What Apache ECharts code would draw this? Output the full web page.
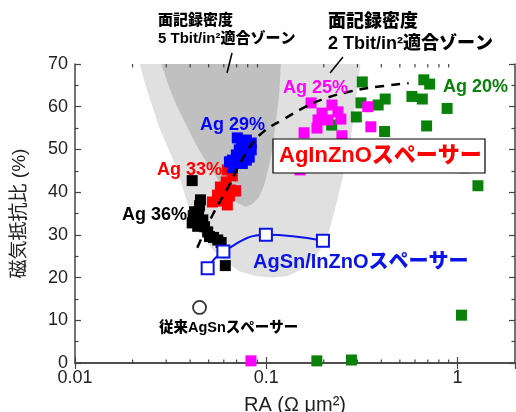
<!DOCTYPE html>
<html><head><meta charset="utf-8">
<script src="https://cdn.jsdelivr.net/npm/echarts@6/dist/echarts.min.js"></script>
<style>html,body{margin:0;padding:0;background:#fff}#c{width:516px;height:412px}</style>
</head><body><div id="c"></div>
<script>
// ---- data ----
const xMajorTicks = [0.01, 0.1, 1];
const xMinorTicks = [0.02,0.03,0.04,0.05,0.06,0.07,0.08,0.09,0.2,0.3,0.4,0.5,0.6,0.7,0.8,0.9];
const yTicks = [0,10,20,30,40,50,60,70];

const ag36 = [[0.041,42.7],[0.0453,38.2],[0.0448,36.8],[0.0443,35.4],[0.0422,35.4],[0.0415,34.5],[0.0438,34.3],[0.0430,33.1],[0.0466,33.5],[0.041,32.8],[0.0438,32.0],[0.0476,31.9],[0.0494,30.7],[0.0505,29.6],[0.053,29.4],[0.0558,28.8],[0.0581,28.2],[0.0611,22.8]];
const ag33 = [[0.0626,45.2],[0.0665,43.8],[0.0618,42.4],[0.0576,41.2],[0.0612,41.0],[0.0649,40.5],[0.069,40.3],[0.0556,39.3],[0.0597,38.9],[0.0642,39.1],[0.0523,37.7],[0.0565,37.9],[0.0626,37.0]];
const ag29 = [[0.0706,52.7],[0.0787,52.2],[0.0835,51.5],[0.0741,51.1],[0.0815,51.1],[0.0723,49.9],[0.0787,49.4],[0.0835,49.9],[0.0698,48.7],[0.0665,47.5],[0.0723,47.1],[0.0787,47.5],[0.0815,48.2],[0.0642,47.1],[0.075,46.7],[0.0665,45.7]];
const ag25 = [[0.1716,60.9],[0.2206,60.4],[0.1958,58.5],[0.2371,58.8],[0.1866,56.9],[0.2458,57.1],[0.2104,56.9],[0.1843,55.0],[0.1577,53.9],[0.2487,53.2],[0.3397,60.0],[0.3524,55.3],[0.1503,45.2],[0.0692,40.3],[0.0832,0.5]];
const ag20 = [[0.318,65.8],[0.667,66.3],[0.716,65.3],[0.313,60.9],[0.385,60.4],[0.419,61.8],[0.578,62.4],[0.655,61.8],[0.883,59.6],[0.296,57.6],[0.22,55.7],[0.416,54.2],[0.69,55.5],[1.088,45.7],[1.28,41.5],[1.05,11.2],[0.184,0.5],[0.279,0.7]];
const agSnInZnO = [[0.0494,22.2],[0.0597,26.1],[0.0996,30.0],[0.198,28.6]];
const agSnConventional = [[0.0448,13.0]];
const trendCurve = [[0.0436,27.0],[0.0525,34.7],[0.0642,41.7],[0.0723,46.4],[0.0848,51.5],[0.0996,54.6],[0.1216,56.9],[0.161,60.0],[0.2046,62.0],[0.2705,63.5],[0.358,64.5],[0.556,65.5]];
const zone5T = [[0.0262,75],[0.0283,70],[0.0312,64.3],[0.0339,60.4],[0.0382,55.7],[0.043,51.1],[0.0495,46.4],[0.0569,42.5],[0.0642,39.3],[0.0709,37.4],[0.0784,36.6],[0.0848,37.2],[0.0919,38.9],[0.0976,41.7],[0.1037,46.4],[0.1079,50.3],[0.1123,56.5],[0.1169,62.8],[0.1193,70],[0.121,75]];
const zone2T = [[0.0205,75],[0.0218,70],[0.0236,64.3],[0.0256,59.6],[0.0277,54.9],[0.0312,49.5],[0.0345,44.8],[0.0397,35.8],[0.0476,28.8],[0.0569,24.8],[0.0723,21.5],[0.0866,20.4],[0.1037,20.0],[0.1285,20.3],[0.158,22.2],[0.1888,26.0],[0.2128,30.7],[0.232,37.0],[0.2549,44.7],[0.2772,52.7],[0.2942,61.6],[0.3111,70],[0.32,75]];

// ---- chart ----
const chart = echarts.init(document.getElementById('c'), null, {renderer:'canvas'});
const FONT = '"Liberation Sans", Arial, "Noto Sans CJK JP", sans-serif';
const AX = '#444';

function zoneSeries(points, color, z){
  return {type:'custom', coordinateSystem:'cartesian2d', clip:true, silent:true, z:z,
    data:[[0.05,30]],
    renderItem:function(params, api){
      return {type:'polygon', shape:{points: points.map(p=>api.coord(p))}, style:{fill:color}};
    }};
}
function scatter(data, color, size){
  return {type:'scatter', data:data, symbol:'rect', symbolSize:size, itemStyle:{color:color, opacity:1}, z:5, silent:true};
}

const option = {
  animation:false,
  backgroundColor:'#fff',
  grid:{left:75, right:1, top:64, bottom:49, containLabel:false, outerBoundsMode:'none'},
  xAxis:[
    {type:'log', logBase:10, min:0.01, max:2, position:'bottom',
     name:'RA (Ω μm²)', nameLocation:'middle', nameGap:32,
     nameTextStyle:{fontFamily:FONT, fontSize:20, color:'#222'},
     axisLine:{lineStyle:{color:AX, width:1.5}},
     axisTick:{inside:true, length:6, lineStyle:{color:AX, width:1.2}},
     axisLabel:{fontFamily:FONT, fontSize:18, color:'#222', margin:6, showMaxLabel:false,
       formatter:function(v){ return xMajorTicks.some(t=>Math.abs(t-v)/t<1e-6) ? String(v) : ''; }},
     splitLine:{show:false}, minorTick:{show:false}},
    {type:'log', logBase:10, min:0.01, max:2, position:'top',
     axisLine:{lineStyle:{color:AX, width:1.5}},
     axisTick:{inside:true, length:6, lineStyle:{color:AX, width:1.2}},
     axisLabel:{show:false}, splitLine:{show:false}}
  ],
  yAxis:[
    {type:'value', min:0, max:70, interval:10, position:'left',
     name:'磁気抵抗比 (%)', nameLocation:'middle', nameGap:46, nameRotate:90,
     nameTextStyle:{fontFamily:FONT, fontSize:19, color:'#222'},
     axisLine:{show:true, lineStyle:{color:AX, width:1.5}},
     axisTick:{show:true, inside:true, length:6, lineStyle:{color:AX, width:1.2}},
     minorTick:{show:true, splitNumber:2, length:3.5, lineStyle:{color:AX, width:1.2}},
     axisLabel:{fontFamily:FONT, fontSize:18, color:'#222', margin:7},
     splitLine:{show:false}},
    {type:'value', min:0, max:70, interval:10, position:'right',
     axisLine:{show:true, lineStyle:{color:AX, width:1.5}},
     axisTick:{show:true, inside:true, length:6, lineStyle:{color:AX, width:1.2}},
     minorTick:{show:true, splitNumber:2, length:3.5, lineStyle:{color:AX, width:1.2}},
     axisLabel:{show:false}, splitLine:{show:false}}
  ],
  series:[
    zoneSeries(zone2T, '#e0e0e0', 1),
    zoneSeries(zone5T, '#c0c0c0', 2),
    {type:'custom', coordinateSystem:'cartesian2d', clip:false, silent:true, z:3,
     data: xMinorTicks.map(v=>[v, 0]),
     renderItem:function(params, api){
       const v = api.value(0);
       const b = api.coord([v, 0]);
       const t = api.coord([v, 70]);
       const st = {stroke:AX, lineWidth:1.2};
       return {type:'group', children:[
         {type:'line', shape:{x1:b[0], y1:b[1], x2:b[0], y2:b[1]-3.5}, style:st},
         {type:'line', shape:{x1:t[0], y1:t[1], x2:t[0], y2:t[1]+3.5}, style:st}
       ]};
     }},
    scatter(ag20, '#0a820a', 11),
    scatter(ag25, '#ff00ff', 11),
    scatter(ag36, '#000000', 11),
    scatter(ag33, '#ff0000', 11),
    scatter(ag29, '#0000ff', 11),
    {type:'line', data:trendCurve, smooth:0.4, symbol:'none', z:7, silent:true,
     lineStyle:{color:'#000', width:2.5, type:[9,7]}},
    {type:'line', data:agSnInZnO, smooth:0.45, symbol:'rect', symbolSize:12, showAllSymbol:true, z:8, silent:true,
     lineStyle:{color:'#0a14e6', width:2},
     itemStyle:{color:'#fff', borderColor:'#0a14e6', borderWidth:2}},
    {type:'scatter', data:agSnConventional, symbol:'circle', symbolSize:13, z:8, silent:true,
     itemStyle:{color:'#fff', borderColor:'#000', borderWidth:1.8}}
  ],
  graphic:[
    {type:'text', x:158, y:21, z:100, style:{text:'面記録密度', font:'900 15px '+FONT, fill:'#000', verticalAlign:'middle'}},
    {type:'text', x:158, y:39, z:100, style:{text:'5 Tbit/in²適合ゾーン', font:'900 15px '+FONT, fill:'#000', verticalAlign:'middle'}},
    {type:'line', z:100, shape:{x1:232, y1:53, x2:227, y2:73}, style:{stroke:'#000', lineWidth:1.5}},
    {type:'text', x:328, y:22, z:100, style:{text:'面記録密度', font:'900 18px '+FONT, fill:'#000', verticalAlign:'middle'}},
    {type:'text', x:328, y:44, z:100, style:{text:'2 Tbit/in²適合ゾーン', font:'900 18px '+FONT, fill:'#000', verticalAlign:'middle'}},
    {type:'line', z:100, shape:{x1:343, y1:57, x2:330, y2:73}, style:{stroke:'#000', lineWidth:1.5}},
    {type:'text', x:443, y:87, z:100, style:{text:'Ag 20%', font:'bold 18px '+FONT, fill:'#0a820a', verticalAlign:'middle'}},
    {type:'text', x:283, y:88, z:100, style:{text:'Ag 25%', font:'bold 18px '+FONT, fill:'#ff00ff', verticalAlign:'middle'}},
    {type:'text', x:200, y:125, z:100, style:{text:'Ag 29%', font:'bold 18px '+FONT, fill:'#0000ff', verticalAlign:'middle'}},
    {type:'text', x:157, y:170, z:100, style:{text:'Ag 33%', font:'bold 18px '+FONT, fill:'#ff0000', verticalAlign:'middle'}},
    {type:'text', x:122, y:215, z:100, style:{text:'Ag 36%', font:'bold 18px '+FONT, fill:'#000', verticalAlign:'middle'}},
    {type:'rect', z:99, shape:{x:273, y:139, width:212, height:34}, style:{fill:'#fff', stroke:'#000', lineWidth:1.2}},
    {type:'text', x:279, y:156, z:100, style:{text:'AgInZnOスペーサー', font:'900 22px '+FONT, fill:'#ff0000', verticalAlign:'middle'}},
    {type:'text', x:253, y:262, z:100, style:{text:'AgSn/InZnOスペーサー', font:'900 20px '+FONT, fill:'#0a14e6', verticalAlign:'middle'}},
    {type:'text', x:159, y:328, z:100, style:{text:'従来AgSnスペーサー', font:'900 14.5px '+FONT, fill:'#000', verticalAlign:'middle'}}
  ]
};
chart.setOption(option);
</script></body></html>
